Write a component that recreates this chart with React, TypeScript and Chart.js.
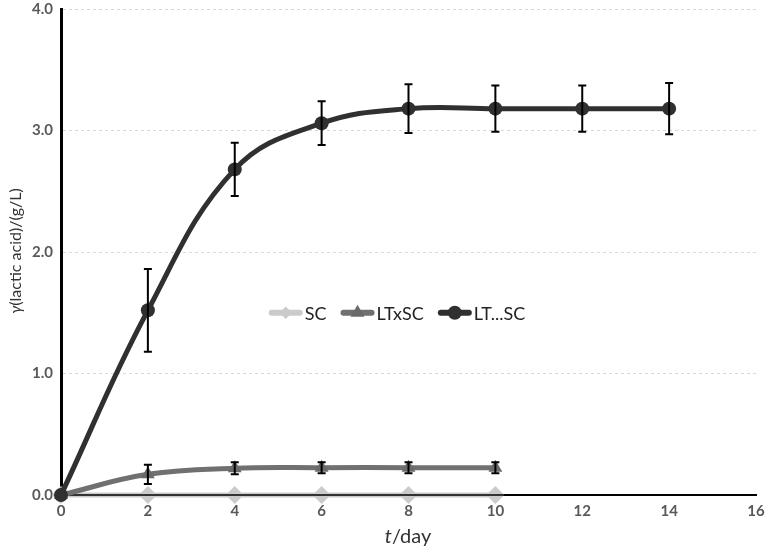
import React, { useEffect, useRef } from "react";
import { Chart, registerables } from "chart.js";

Chart.register(...registerables);

const xDays = [0, 2, 4, 6, 8, 10, 12, 14];
const xTicks = [0, 2, 4, 6, 8, 10, 12, 14, 16];
const yTicks = [0, 1, 2, 3, 4];

const scValues = [0, 0, 0, 0, 0, 0];
const scErrors = [0, 0, 0, 0, 0, 0];
const ltxscValues = [0, 0.17, 0.22, 0.225, 0.225, 0.225];
const ltxscErrors = [0, 0.08, 0.05, 0.045, 0.045, 0.045];
const ltscValues = [0, 1.52, 2.68, 3.06, 3.18, 3.18, 3.18, 3.18];
const ltscErrors = [0, 0.34, 0.22, 0.18, 0.2, 0.19, 0.19, 0.21];

const seriesNames = ["SC", "LTxSC", "LT...SC"];

const FONT = "Lato, 'Open Sans', 'Liberation Sans', sans-serif";

const toPoints = (vals: number[]) => vals.map((v, i) => ({ x: xDays[i], y: v }));

const errorBarPlugin = {
  id: "errorBars",
  afterDatasetsDraw(chart: any) {
    const ctx = chart.ctx;
    const ys = chart.scales.y;
    chart.data.datasets.forEach((ds: any, di: number) => {
      const errs: number[] = ds.errorBars;
      if (!errs) return;
      const meta = chart.getDatasetMeta(di);
      meta.data.forEach((pt: any, i: number) => {
        const e = errs[i];
        if (!e) return;
        const v = ds.data[i].y;
        const top = ys.getPixelForValue(v + e);
        const bot = ys.getPixelForValue(v - e);
        ctx.save();
        ctx.strokeStyle = "#000";
        ctx.lineWidth = 2;
        ctx.beginPath();
        ctx.moveTo(pt.x, top);
        ctx.lineTo(pt.x, bot);
        ctx.moveTo(pt.x - 4, top);
        ctx.lineTo(pt.x + 4, top);
        ctx.moveTo(pt.x - 4, bot);
        ctx.lineTo(pt.x + 4, bot);
        ctx.stroke();
        ctx.restore();
      });
    });
  },
};

const axisOverPlugin = {
  id: "axisOver",
  afterDatasetDraw(chart: any, args: any) {
    if (args.index !== 2) return;
    const ctx = chart.ctx;
    const { left, right } = chart.chartArea;
    const y0 = chart.scales.y.getPixelForValue(0);
    ctx.save();
    ctx.strokeStyle = "#000";
    ctx.lineWidth = 1.5;
    ctx.beginPath();
    ctx.moveTo(left, y0);
    ctx.lineTo(right, y0);
    ctx.stroke();
    ctx.restore();
  },
};

function drawMarker(ctx: CanvasRenderingContext2D, style: string, x: number, y: number, r: number, color: string) {
  ctx.fillStyle = color;
  ctx.beginPath();
  if (style === "circle") {
    ctx.arc(x, y, r, 0, Math.PI * 2);
  } else if (style === "triangle") {
    const h = r * 0.866;
    ctx.moveTo(x, y - r);
    ctx.lineTo(x + h, y + r / 2);
    ctx.lineTo(x - h, y + r / 2);
    ctx.closePath();
  } else {
    const d = r * Math.SQRT1_2;
    ctx.moveTo(x, y - d);
    ctx.lineTo(x + d, y);
    ctx.lineTo(x, y + d);
    ctx.lineTo(x - d, y);
    ctx.closePath();
  }
  ctx.fill();
}

const legendTitlePlugin = {
  id: "legendTitles",
  afterDraw(chart: any) {
    const ctx = chart.ctx;
    const ca = chart.chartArea;
    ctx.save();
    ctx.font = `18px ${FONT}`;
    ctx.textBaseline = "middle";
    ctx.textAlign = "left";
    const ly = chart.scales.y.getPixelForValue(1.5);
    const lineLen = 34;
    const items = chart.data.datasets
      .slice()
      .sort((a: any, b: any) => a.legendIndex - b.legendIndex);
    let total = 0;
    items.forEach((ds: any, i: number) => {
      total += lineLen + 2 + ctx.measureText(ds.label).width + (i < items.length - 1 ? 14 : 0);
    });
    let x = 397 - total / 2;
    items.forEach((ds: any) => {
      ctx.strokeStyle = ds.borderColor;
      ctx.lineWidth = 6;
      ctx.lineCap = "round";
      ctx.beginPath();
      ctx.moveTo(x + 3, ly);
      ctx.lineTo(x + lineLen - 3, ly);
      ctx.stroke();
      drawMarker(ctx, ds.pointStyle, x + lineLen / 2, ly, ds.pointRadius, ds.pointBackgroundColor);
      x += lineLen + 2;
      ctx.fillStyle = "#222";
      ctx.fillText(ds.label, x, ly + 1);
      x += ctx.measureText(ds.label).width + 14;
    });

    // x title: t/day
    const xc = 408;
    const xy = 537;
    ctx.fillStyle = "#333";
    ctx.textBaseline = "middle";
    ctx.font = `italic 20px ${FONT}`;
    const tW = ctx.measureText("t").width;
    ctx.font = `20px ${FONT}`;
    const rW = ctx.measureText("/day").width;
    let sx = xc - (tW + rW) / 2;
    ctx.font = `italic 20px ${FONT}`;
    ctx.fillText("t", sx, xy);
    ctx.font = `20px ${FONT}`;
    ctx.fillText("/day", sx + tW, xy);

    // y title
    ctx.translate(16, 251);
    ctx.rotate(-Math.PI / 2);
    ctx.font = `italic 16px ${FONT}`;
    const gW = ctx.measureText("γ").width;
    ctx.font = `16px ${FONT}`;
    const restY = "(lactic acid)/(g/L)";
    const rYW = ctx.measureText(restY).width;
    sx = -(gW + rYW) / 2;
    ctx.font = `italic 16px ${FONT}`;
    ctx.fillText("γ", sx, 0);
    ctx.font = `16px ${FONT}`;
    ctx.fillText(restY, sx + gW, 0);
    ctx.restore();
  },
};

export default function App() {
  const ref = useRef<HTMLCanvasElement | null>(null);
  useEffect(() => {
    document.body.style.margin = "0";
    const chart = new Chart(ref.current as HTMLCanvasElement, {
      type: "line",
      data: {
        datasets: [
          {
            label: seriesNames[2],
            legendIndex: 2,
            data: toPoints(ltscValues),
            errorBars: ltscErrors,
            borderColor: "#303030",
            backgroundColor: "#303030",
            pointBackgroundColor: "#303030",
            pointBorderColor: "#303030",
            borderWidth: 5,
            pointStyle: "circle",
            pointRadius: 7,
            pointBorderWidth: 0,
            tension: 0.4,
            clip: false,
            order: 0,
          } as any,
          {
            label: seriesNames[1],
            legendIndex: 1,
            data: toPoints(ltxscValues),
            errorBars: ltxscErrors,
            borderColor: "#707070",
            backgroundColor: "#6a6a6a",
            pointBackgroundColor: "#6a6a6a",
            pointBorderColor: "#6a6a6a",
            borderWidth: 5,
            pointStyle: "triangle",
            pointRadius: 8,
            pointBorderWidth: 0,
            tension: 0.4,
            clip: false,
            order: 1,
          } as any,
          {
            label: seriesNames[0],
            legendIndex: 0,
            data: toPoints(scValues),
            errorBars: scErrors,
            borderColor: "#cbcbcb",
            backgroundColor: "#cbcbcb",
            pointBackgroundColor: "#cbcbcb",
            pointBorderColor: "#cbcbcb",
            borderWidth: 5,
            pointStyle: "rectRot",
            pointRadius: 9,
            pointBorderWidth: 0,
            tension: 0.4,
            clip: false,
            order: 2,
          } as any,
        ],
      },
      options: {
        animation: false,
        responsive: false,
        layout: { padding: { left: 0, right: 10, top: 8, bottom: 0 } },
        plugins: { legend: { display: false }, tooltip: { enabled: false } },
        scales: {
          x: {
            type: "linear",
            min: 0,
            max: 16,
            afterBuildTicks: (s: any) => {
              s.ticks = xTicks.map((v) => ({ value: v }));
            },
            afterFit: (s: any) => {
              s.height = 55;
              s.paddingLeft = 0;
              s.paddingRight = 0;
              s.paddingTop = 0;
              s.paddingBottom = 0;
            },
            ticks: {
              font: { family: FONT, size: 15, weight: "bold" },
              color: "#595959",
              padding: 7,
              callback: (v: any) => String(v),
            },
            grid: { display: false, drawTicks: false },
            border: { display: true, color: "#000", width: 2 },
          },
          y: {
            min: 0,
            max: 4,
            afterBuildTicks: (s: any) => {
              s.ticks = yTicks.map((v) => ({ value: v }));
            },
            afterFit: (s: any) => {
              s.width = 61;
              s.paddingLeft = 0;
              s.paddingRight = 0;
              s.paddingTop = 0;
              s.paddingBottom = 0;
            },
            ticks: {
              font: { family: FONT, size: 15, weight: "bold" },
              color: "#595959",
              padding: 8,
              callback: (v: any) => Number(v).toFixed(1),
            },
            grid: { color: "#d9d9d9", lineWidth: 1, drawTicks: false },
            border: { display: true, color: "#000", width: 3, dash: [3, 3] } as any,
          },
        },
      } as any,
      plugins: [axisOverPlugin, errorBarPlugin, legendTitlePlugin],
    });
    return () => chart.destroy();
  }, []);
  return (
    <div style={{ width: 766, height: 550 }}>
      <canvas ref={ref} width={766} height={550} style={{ display: "block" }} />
    </div>
  );
}
